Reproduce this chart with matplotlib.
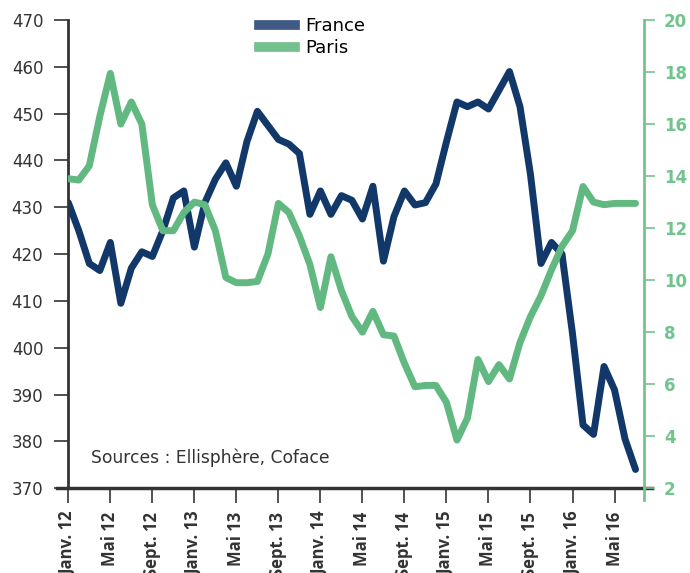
import matplotlib
matplotlib.use("Agg")
import matplotlib.pyplot as plt
from matplotlib.lines import Line2D

# Monthly series, Janv. 12 -> Juil. 16
france = [431, 425, 418, 416.5, 422.5, 409.5, 417, 420.5, 419.5, 425,
          432, 433.5, 421.5, 431, 436, 439.5, 434.5, 444, 450.5, 447.5,
          444.5, 443.5, 441.5, 428.5, 433.5, 428.5, 432.5, 431.5, 427.5, 434.5,
          418.5, 428, 433.5, 430.5, 431, 435, 444, 452.5, 451.5, 452.5,
          451, 455, 459, 451.5, 437, 418, 422.5, 420, 403, 383.5,
          381.5, 396, 391, 380.5, 374]
paris = [13.9, 13.85, 14.4, 16.3, 17.95, 16.0, 16.85, 16.0, 12.9, 11.9,
         11.9, 12.6, 13.0, 12.9, 11.9, 10.1, 9.9, 9.9, 9.95, 11.0,
         12.95, 12.6, 11.7, 10.6, 8.95, 10.9, 9.6, 8.6, 8.0, 8.8,
         7.9, 7.85, 6.8, 5.9, 5.95, 5.95, 5.3, 3.85, 4.7, 6.95,
         6.1, 6.75, 6.2, 7.6, 8.6, 9.4, 10.4, 11.3, 11.9, 13.6,
         13.0, 12.9, 12.95, 12.95, 12.95]
tick_labels = ["Janv. 12", "Mai 12", "Sept. 12", "Janv. 13", "Mai 13", "Sept. 13",
               "Janv. 14", "Mai 14", "Sept. 14", "Janv. 15", "Mai 15", "Sept. 15",
               "Janv. 16", "Mai 16"]
months = list(range(len(france)))

navy = "#12386a"
green = "#62b881"
axis_green = "#72c48e"
dark = "#333333"

plt.rcParams['font.family'] = ['DejaVu Sans']

fig = plt.figure(figsize=(6.9, 5.73), dpi=100)
ax1 = fig.add_axes([0.099, 0.148, 0.835, 0.817])
ax2 = ax1.twinx()

ax1.plot(months, france, color=navy, lw=5, solid_joinstyle='round', solid_capstyle='round')
ax2.plot(months, paris, color=green, lw=5, solid_joinstyle='round', solid_capstyle='round')

ax1.set_xlim(0, 54.85)
ax1.set_ylim(370, 470)
ax2.set_ylim(2, 20)
ax1.set_yticks(range(370, 471, 10))
ax2.set_yticks(range(2, 21, 2))
ax1.set_xticks(range(0, 53, 4))
ax1.set_xticklabels(tick_labels, rotation=90, fontsize=12, fontweight='bold',
                    color=dark, family=['Open Sans', 'DejaVu Sans'])

for ax in (ax1, ax2):
    ax.spines['top'].set_visible(False)
ax1.spines['right'].set_visible(False)
ax2.spines['left'].set_visible(False)
ax2.spines['bottom'].set_visible(False)
ax1.spines['left'].set_color(dark)
ax1.spines['left'].set_linewidth(2)
ax1.spines['bottom'].set_color(dark)
ax1.spines['bottom'].set_linewidth(2.5)
ax1.spines['bottom'].set_bounds(-1.05, 55.6)
ax2.spines['right'].set_color(axis_green)
ax2.spines['right'].set_linewidth(2)
ax2.spines['right'].set_bounds(1.55, 20)

ax1.tick_params(axis='y', length=10, width=1.2, color=dark, labelsize=12, labelcolor=dark, pad=8)
ax1.tick_params(axis='x', length=11, width=1.2, color=dark, pad=6)
ax2.tick_params(axis='y', length=8, width=1.2, color=axis_green, labelsize=12,
                labelcolor=axis_green, pad=6)
for lab in ax2.get_yticklabels():
    lab.set_fontweight('bold')

ax1.text(0.04, 0.064, "Sources : Ellisphère, Coface", transform=ax1.transAxes,
         fontsize=12.3, color=dark, va='center')

handles = [Line2D([], [], color="#3f5a84", lw=7), Line2D([], [], color="#74c08f", lw=7)]
ax2.legend(handles, ["France", "Paris"], loc='upper left', bbox_to_anchor=(0.318, 1.022),
           frameon=False, fontsize=13, handlelength=2.0, handletextpad=0.55,
           labelspacing=0.25, borderaxespad=0)

fig.savefig("out.png", dpi=100)
